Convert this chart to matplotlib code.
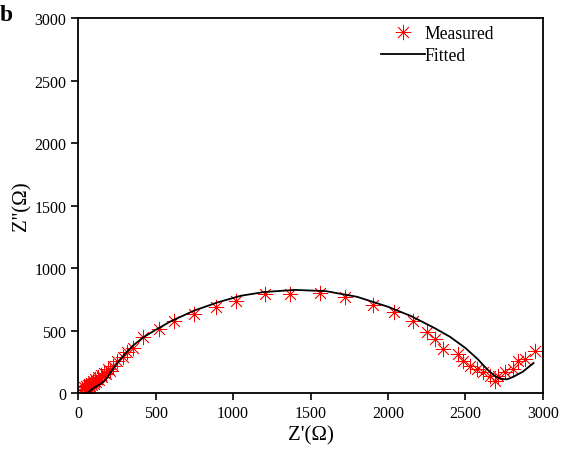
import matplotlib.pyplot as plt
import numpy as np

plt.rcParams['font.family'] = ['Liberation Serif', 'DejaVu Serif']

# measured impedance points (Z', Z'')
z_re = [28, 38, 45, 52, 58, 62, 68, 72, 78, 84, 90, 96, 102, 110, 118, 126, 135, 145,
        155, 165, 178, 190, 205, 222, 253, 288, 318, 352, 422, 520, 617, 747, 890, 1020,
        1206, 1367, 1561, 1722, 1903, 2038, 2161, 2251, 2303, 2354, 2451, 2483, 2528,
        2574, 2612, 2657, 2690, 2709, 2754, 2806, 2838, 2883, 2948]
z_im = [30, 45, 20, 55, 35, 60, 40, 70, 55, 80, 65, 95, 75, 110, 90, 125, 105, 140,
        130, 160, 150, 190, 176, 215, 255, 290, 327, 360, 447, 510, 575, 630, 686, 734,
        790, 790, 798, 766, 702, 646, 574, 487, 431, 351, 311, 255, 215,
        191, 168, 136, 96, 136, 168, 191, 255, 271, 335]

# fitted curve
fit_re = [60, 80, 100, 130, 160, 190, 220, 260, 300, 350, 420, 500, 600, 750, 900,
          1050, 1200, 1400, 1600, 1800, 2000, 2150, 2300, 2400, 2500, 2580, 2640,
          2690, 2730, 2770, 2810, 2870, 2940]
fit_im = [0, 20, 40, 62, 85, 125, 185, 250, 310, 375, 445, 505, 575, 660, 725,
          778, 808, 825, 815, 770, 690, 615, 520, 450, 360, 270, 190,
          135, 112, 110, 130, 170, 240]

fig = plt.figure(figsize=(5.62, 4.56), dpi=100)
ax = fig.add_axes([0.139, 0.136, 0.827, 0.822])

ax.plot(z_re, z_im, linestyle='none', marker=(8, 2, 0), ms=11, mew=0.55,
        color='red', label='Measured')
ax.plot(fit_re, fit_im, color='black', lw=1.3, label='Fitted')

ax.set_xlim(0, 3000)
ax.set_ylim(0, 3000)
ax.set_xticks(np.arange(0, 3001, 500))
ax.set_yticks(np.arange(0, 3001, 500))
ax.tick_params(direction='out', length=5, width=1.2, labelsize=11.5,
               top=False, right=False)
for sp in ax.spines.values():
    sp.set_linewidth(1.3)

ax.set_xlabel("Z'(\u03a9)", fontsize=15, labelpad=3)
ax.set_ylabel("Z''(\u03a9)", fontsize=15, labelpad=2)

ax.legend(loc='upper right', bbox_to_anchor=(0.91, 1.0), frameon=False,
          fontsize=12.7, handlelength=2.45, handletextpad=0.0,
          labelspacing=0.3, borderaxespad=0.0)

fig.text(0.0, 0.965, 'b', fontsize=17, fontweight='bold', va='center')

fig.savefig('out.png', dpi=100)
